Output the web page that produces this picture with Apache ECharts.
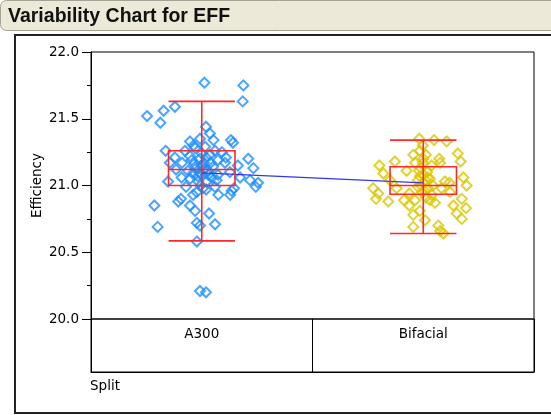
<!DOCTYPE html>
<html><head><meta charset="utf-8">
<script src="https://cdn.jsdelivr.net/npm/echarts/dist/echarts.min.js"></script>
<style>html,body{margin:0;padding:0;background:#fff}#c{width:551px;height:415px}</style>
</head><body><div id="c"></div>
<script>
// ---- data ----
const categories = ['A300', 'Bifacial'];
const yMin = 20.0, yMax = 22.0, yStep = 0.5;

// A300: jittered x position (category units, centre 0.5) and efficiency
const a300X = [0.512,0.688,0.685,0.253,0.328,0.379,0.313,0.519,0.537,0.632,0.641,0.492,0.447,0.337,0.379,0.710,0.733,
  0.424,0.470,0.515,0.560,0.591,0.447,0.492,0.537,0.573,0.411,0.465,0.510,0.551,0.605,0.438,0.488,0.528,0.573,0.384,
  0.627,0.663,0.356,0.348,0.409,0.673,0.718,0.744,0.754,0.635,0.646,0.628,0.575,0.560,0.477,0.394,0.406,0.286,0.447,
  0.470,0.533,0.301,0.492,0.478,0.560,0.478,0.492,0.519,0.447,0.500,0.545,0.484,0.522,0.567,0.429,0.506,0.461,0.463,
  0.553,0.609,0.455,0.475,0.498,0.520,0.540,0.500,0.482,0.510,0.530,0.460,0.495,0.520];
const a300Y = [21.77,21.75,21.63,21.52,21.56,21.59,21.47,21.44,21.39,21.34,21.32,21.35,21.33,21.26,21.21,21.20,21.13,
  21.26,21.28,21.29,21.26,21.25,21.22,21.20,21.23,21.19,21.17,21.16,21.17,21.14,21.17,21.11,21.10,21.11,21.08,21.12,
  21.10,21.15,21.17,21.03,21.06,21.06,21.04,20.99,21.02,20.96,20.98,20.93,20.93,20.99,20.95,20.88,20.90,20.85,20.85,
  20.81,20.79,20.69,20.70,20.72,20.71,20.58,20.21,20.20,21.05,21.08,21.06,21.03,21.03,21.04,20.99,20.98,20.93,21.30,
  21.34,21.21,21.19,21.13,21.15,21.21,21.17,21.24,21.07,21.12,21.08,21.09,21.00,20.97];

// Bifacial: jittered x position (centre 1.5) and efficiency
const bifX = [1.482,1.549,1.606,1.656,1.669,1.572,1.455,1.463,1.372,1.302,1.320,1.425,1.538,1.274,1.297,1.287,1.342,
  1.380,1.437,1.437,1.463,1.530,1.583,1.618,1.681,1.696,1.674,1.636,1.693,1.651,1.508,1.455,1.568,1.674,1.455,1.576,
  1.591,1.498,1.576,1.621,1.598,1.553,1.490,1.517,1.485,1.530,1.503,1.476,1.521,1.494,1.539,1.512,1.476,1.544,1.499,
  1.512,1.485,1.485,1.413,1.350,1.500,1.510,1.490,1.505,1.520,1.480,1.500];
const bifY = [21.35,21.34,21.33,21.24,21.18,21.20,21.23,21.17,21.18,21.15,21.09,21.11,21.15,20.98,20.94,20.90,20.88,
  20.98,20.94,20.85,20.89,20.89,20.98,21.02,21.06,21.00,20.90,20.85,20.83,20.79,20.74,20.78,20.70,20.75,20.69,20.66,
  20.64,21.30,21.17,20.95,21.03,20.87,21.13,21.10,21.07,21.05,21.02,20.99,20.98,20.95,20.93,20.91,21.04,21.00,21.17,
  21.23,21.26,20.81,20.89,21.04,21.08,21.04,21.00,20.96,21.06,21.11,21.20];

// box stats per category: [whisker low, Q1, median, Q3, whisker high]
const boxA300 = [20.585, 21.00, 21.12, 21.26, 21.63];
const boxBif  = [20.64, 20.935, 21.00, 21.14, 21.34];
const groupMeans = [21.095, 21.02];
const groupCentres = [0.5, 1.5];

// ---- chart ----
const FONT = 'DejaVu Sans';
const chart = echarts.init(document.getElementById('c'), null, {renderer: 'canvas'});
const boxData = [[groupCentres[0]].concat(boxA300), [groupCentres[1]].concat(boxBif)];

const option = {
  animation: false,
  backgroundColor: '#fff',
  grid: [
    {left: 91, right: 17, top: 52, bottom: 96, show: true, borderColor: '#000', borderWidth: 1},
    {left: 91, right: 17, top: 319, height: 53, show: true, borderColor: '#000', borderWidth: 1}
  ],
  xAxis: [
    {type: 'value', gridIndex: 0, min: 0, max: 2, show: false},
    {type: 'category', gridIndex: 1, data: categories, position: 'top',
      axisLine: {show: true, lineStyle: {color: '#000'}},
      axisTick: {show: false},
      splitLine: {show: true, lineStyle: {color: '#000', width: 1}},
      axisLabel: {inside: true, margin: 8, color: '#000', fontFamily: FONT, fontSize: 13.5}}
  ],
  yAxis: [
    {type: 'value', gridIndex: 0, min: yMin, max: yMax, interval: yStep,
      name: 'Efficiency', nameLocation: 'middle', nameGap: 47, nameRotate: 90, nameMoveOverlap: false,
      nameTextStyle: {color: '#000', fontFamily: FONT, fontSize: 13.5},
      axisLine: {show: true, lineStyle: {color: '#000'}},
      axisTick: {show: true, length: 9, lineStyle: {color: '#000'}},
      minorTick: {show: true, splitNumber: 2, length: 4, lineStyle: {color: '#000'}},
      splitLine: {show: false},
      axisLabel: {margin: 12, color: '#000', fontFamily: FONT, fontSize: 13.5,
        formatter: v => v.toFixed(1)}},
    {type: 'value', gridIndex: 1, show: false}
  ],
  series: [
    {type: 'scatter', xAxisIndex: 0, yAxisIndex: 0, z: 2, symbol: 'diamond', symbolSize: 10,
      data: a300X.map((x, i) => [x, a300Y[i]]),
      itemStyle: {color: 'rgba(0,0,0,0)', borderColor: '#1E8EFF', borderWidth: 2}},
    {type: 'scatter', xAxisIndex: 0, yAxisIndex: 0, z: 2, symbol: 'diamond', symbolSize: 10,
      data: bifX.map((x, i) => [x, bifY[i]]),
      itemStyle: {color: 'rgba(0,0,0,0)', borderColor: '#DCC600', borderWidth: 2}},
    {type: 'line', xAxisIndex: 0, yAxisIndex: 0, z: 3, symbol: 'none',
      data: groupCentres.map((x, i) => [x, groupMeans[i]]),
      lineStyle: {color: '#3434F0', width: 1.2}},
    {type: 'custom', xAxisIndex: 0, yAxisIndex: 0, z: 4,
      data: boxData,
      encode: {x: 0, y: [1, 2, 3, 4, 5]},
      renderItem: function (params, api) {
        const x = api.value(0);
        const lo = api.coord([x, api.value(1)]);
        const q1 = api.coord([x, api.value(2)]);
        const md = api.coord([x, api.value(3)]);
        const q3 = api.coord([x, api.value(4)]);
        const hi = api.coord([x, api.value(5)]);
        const w = api.size([0.3, 0])[0];
        const h = w / 2;
        const st = {stroke: '#FF2828', lineWidth: 1.6, fill: null};
        const ln = (a, b) => ({type: 'line', shape: {x1: a[0], y1: a[1], x2: b[0], y2: b[1]}, style: st});
        return {type: 'group', children: [
          ln(lo, hi),
          ln([lo[0] - h, lo[1]], [lo[0] + h, lo[1]]),
          ln([hi[0] - h, hi[1]], [hi[0] + h, hi[1]]),
          {type: 'rect', shape: {x: q3[0] - h, y: q3[1], width: w, height: q1[1] - q3[1]},
            style: {stroke: '#FF2828', lineWidth: 1.6, fill: 'none'}},
          ln([md[0] - h, md[1]], [md[0] + h, md[1]])
        ]};
      }}
  ],
  graphic: [
    {type: 'rect', z: 0, shape: {x: 0.5, y: 0.5, width: 600, height: 30, r: [6, 0, 0, 6]},
      style: {fill: '#ECE9D8', stroke: '#A3A293', lineWidth: 1}},
    {type: 'text', z: 1, x: 8, y: 17,
      style: {text: 'Variability Chart for EFF', fill: '#111', font: 'bold 19.5px "Liberation Sans", Arial, sans-serif',
        textVerticalAlign: 'middle', verticalAlign: 'middle'}},
    {type: 'rect', z: 0, shape: {x: 15, y: 35, width: 600, height: 378},
      style: {fill: 'none', stroke: '#222', lineWidth: 2}},
    {type: 'text', z: 1, x: 90, y: 386,
      style: {text: 'Split', fill: '#000', font: '13.5px "DejaVu Sans", sans-serif',
        textVerticalAlign: 'middle', verticalAlign: 'middle'}}
  ]
};
chart.setOption(option);
</script></body></html>
